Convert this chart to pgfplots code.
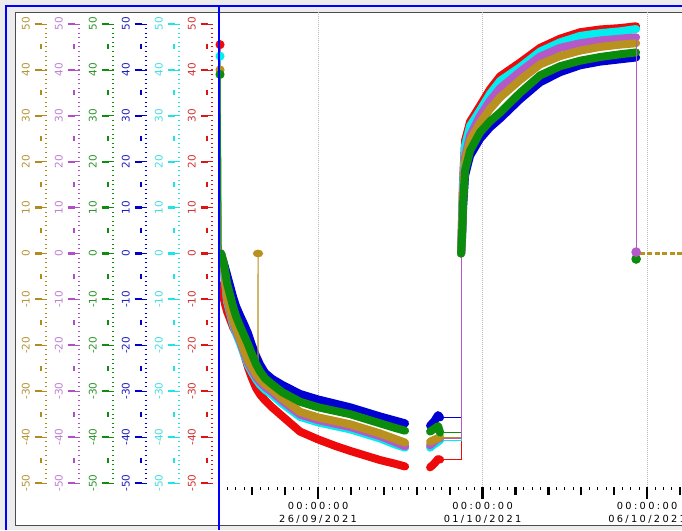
\documentclass[border=0pt]{standalone}
\usepackage{fontspec}
\usepackage{pgfplots}
\pgfplotsset{compat=1.18}
\setmainfont{DejaVu Sans}
\newfontfamily\datefont[LetterSpace=24]{DejaVu Sans}

\definecolor{dRed}{RGB}{238,10,10}
\definecolor{dCyan}{RGB}{0,238,238}
\definecolor{dPur}{RGB}{180,90,200}
\definecolor{dOl}{RGB}{184,145,30}
\definecolor{dGr}{RGB}{12,140,12}
\definecolor{dBl}{RGB}{0,0,210}
\definecolor{tOl}{RGB}{176,140,32}\definecolor{lOl}{RGB}{180,148,56}
\definecolor{tPu}{RGB}{176,80,196}\definecolor{lPu}{RGB}{190,128,210}
\definecolor{tGr}{RGB}{16,140,16}\definecolor{lGr}{RGB}{44,150,44}
\definecolor{tBl}{RGB}{0,0,200}\definecolor{lBl}{RGB}{32,32,188}
\definecolor{tCy}{RGB}{30,228,228}\definecolor{lCy}{RGB}{70,222,222}
\definecolor{tRe}{RGB}{222,20,20}\definecolor{lRe}{RGB}{210,52,52}
\definecolor{bgGray}{RGB}{236,236,236}

\pgfplotsset{
  scalebase/.style={anchor=south west, scale only axis, width=1pt, height=475pt,
    xmin=0, xmax=1, ymin=-50.87, ymax=52.61, axis x line=none, axis y line*=left,
    y axis line style={draw=none}, tick align=outside, clip=false},
  band/.style={line width=8pt, line cap=round, line join=round, mark=none},
  thin/.style={line width=1pt},
}
\newcommand{\scalepair}[3]{%
\begin{axis}[scalebase, at={(#1pt,43pt)},
  ytick={-50,-40,...,50}, yticklabels={-50,-40,-30,-20,-10,0,10,20,30,40,50},
  minor ytick={-49,-48,...,49},
  major tick length=12pt, minor tick length=2.5pt,
  tick style={draw=#2, line width=0.7pt},
  minor tick style={line width=0.9pt},
  yticklabel style={xshift=-5pt, rotate=90, anchor=south, inner sep=0pt, text=#3,
    font=\fontsize{10.5}{10.5}\selectfont}]
\end{axis}
\begin{axis}[scalebase, at={(#1pt-5.5pt,43pt)},
  ytick={-50,-40,...,50}, yticklabels={},
  major tick length=7pt, tick style={draw=#2, line width=2.2pt},
  extra y ticks={-45,-35,...,45}, extra y tick labels={},
  extra y tick style={major tick length=1.3pt, tick style={line width=5pt}}]
\end{axis}
}

\begin{document}
\begin{tikzpicture}[x=1pt,y=1pt]
\path[use as bounding box] (0,0) rectangle (682,530);
\fill[bgGray] (0,0) rectangle (682,530);
\fill[white] (15,5) rectangle (682,518);
\draw[gray!60!black, line width=0.8pt] (682,518) -- (15,518) -- (15,5) -- (682,5);

\scalepair{47}{tOl}{lOl}
\scalepair{80}{tPu}{lPu}
\scalepair{114}{tGr}{lGr}
\scalepair{147}{tBl}{lBl}
\scalepair{180}{tCy}{lCy}
\scalepair{213}{tRe}{lRe}

\begin{axis}[
  at={(219pt,43pt)}, anchor=south west, scale only axis, width=463pt, height=475pt,
  xmin=-3.01, xmax=11.06, ymin=-50.87, ymax=52.61,
  axis y line=none, axis x line*=bottom, x axis line style={draw=none},
  xtick={0,5,10},
  xticklabels={{00:00:00\\26/09/2021},{00:00:00\\01/10/2021},{00:00:00\\06/10/2021}},
  minor xtick={-3,-2.75,...,11},
  extra x ticks={-3,-2,-1,1,2,3,4,6,7,8,9,11},
  extra x tick labels={},
  extra x tick style={major tick length=8pt, grid=none, tick style={line width=0.8pt}},
  tick align=outside,
  major tick length=12pt, minor tick length=3pt,
  tick style={black, line width=0.8pt},
  major tick style={line width=2.2pt},
  xmajorgrids, grid style={densely dotted, gray!55, line width=0.6pt},
  xticklabel style={align=center, font=\datefont\fontsize{9.8}{13}\selectfont, text=black},
  clip=true,
]
% ---- start points (thin) ----
\addplot[dRed, thin, mark=*, mark size=4pt, mark indices={1}] coordinates {(-2.979,45.5) (-2.948,-7)};
\addplot[dCyan, thin, mark=*, mark size=4pt, mark indices={1}] coordinates {(-2.979,43) (-2.948,0)};
\addplot[dOl, thin, mark=*, mark size=4pt, mark indices={1}] coordinates {(-2.979,40) (-2.948,0)};
\addplot[dGr, thin, mark=*, mark size=4pt, mark indices={1}] coordinates {(-2.979,39) (-2.948,0)};
% ---- step lines (thin) ----
\addplot[dBl, thin] coordinates {(3.708,-35.7) (4.347,-35.7) (4.347,0)};
\addplot[dRed, thin] coordinates {(3.708,-44.9) (4.347,-44.9) (4.347,0)};
\addplot[dCyan, thin] coordinates {(3.708,-40.7) (4.347,-40.7) (4.347,0)};
\addplot[dOl, thin] coordinates {(3.708,-40) (4.347,-40) (4.347,0)};
\addplot[dGr, thin] coordinates {(3.708,-39) (4.347,-39) (4.347,0)};
\addplot[dPur, thin] coordinates {(3.708,-40.3) (4.347,-40.3) (4.347,0)};
% ---- blue ----
\addplot[dBl, band] coordinates {(-2.948,0) (-2.888,-1.5) (-2.827,-3) (-2.766,-4.6) (-2.675,-7) (-2.584,-9.4) (-2.492,-11.5) (-2.371,-13.5) (-2.249,-15.4) (-2.128,-17.4) (-2.006,-20) (-1.884,-22.3) (-1.763,-24.2) (-1.611,-26) (-1.398,-27.3) (-1.094,-28.6) (-0.547,-30.6) (0,-31.8) (0.517,-32.7) (0.973,-33.5) (1.429,-34.5) (1.884,-35.5) (2.340,-36.4) (2.644,-37)};
\addplot[dBl, band] coordinates {(3.404,-37.5) (3.526,-36.6) (3.648,-35.2) (3.708,-35.7)};
\addplot[dBl, band] coordinates {(4.347,0) (4.377,3.5) (4.407,10) (4.468,17) (4.620,21.3) (4.924,25) (5.228,27.5) (5.532,29.4) (6.140,33.6) (6.748,37.3) (7.356,39.5) (7.964,41) (8.571,41.8) (9.179,42.3) (9.666,42.7)};
% ---- red ----
\addplot[dRed, band] coordinates {(-2.948,-7) (-2.888,-9) (-2.827,-11) (-2.766,-12.6) (-2.675,-14.3) (-2.584,-16) (-2.492,-17.3) (-2.371,-19) (-2.249,-21.9) (-2.128,-24.8) (-2.006,-27.2) (-1.884,-29.3) (-1.763,-30.7) (-1.611,-32) (-1.398,-33.5) (-1.094,-35.4) (-0.547,-38.8) (0,-40.5) (0.517,-41.9) (0.973,-43) (1.429,-44) (1.884,-45) (2.340,-45.8) (2.644,-46.4)};
\addplot[dRed, band] coordinates {(3.404,-46.6) (3.526,-45.8) (3.648,-44.8) (3.708,-44.9)};
\addplot[dRed, band] coordinates {(4.347,0) (4.377,8) (4.407,16) (4.468,24.6) (4.620,28.7) (4.924,32.2) (5.228,35.8) (5.532,38.6) (6.140,41.6) (6.748,44.8) (7.356,46.8) (7.964,48.2) (8.571,48.8) (9.179,49.1) (9.666,49.5)};
% ---- cyan ----
\addplot[dCyan, band] coordinates {(-2.948,0) (-2.888,-3) (-2.827,-6) (-2.766,-10.5) (-2.675,-13) (-2.584,-15.5) (-2.492,-17.4) (-2.371,-19.6) (-2.249,-22) (-2.128,-24.3) (-2.006,-25.9) (-1.884,-27.4) (-1.763,-28.6) (-1.611,-29.7) (-1.398,-30.8) (-1.094,-32.7) (-0.547,-35.6) (0,-36.8) (0.517,-37.6) (0.973,-38.3) (1.429,-39.3) (1.884,-40.3) (2.340,-41.6) (2.644,-42.3)};
\addplot[dCyan, band] coordinates {(3.404,-42.3) (3.526,-41.6) (3.648,-41) (3.708,-40.7)};
\addplot[dCyan, band] coordinates {(4.347,0) (4.377,7) (4.407,15) (4.468,23.5) (4.620,27.8) (4.924,31.2) (5.228,34.8) (5.532,37.6) (6.140,40.6) (6.748,44) (7.356,46) (7.964,47.4) (8.571,48) (9.179,48.4) (9.666,48.9)};
% ---- purple ----
\addplot[dPur, band] coordinates {(-2.948,0) (-2.888,-2.2) (-2.827,-5.2) (-2.766,-10) (-2.675,-12.6) (-2.584,-15) (-2.492,-16.9) (-2.371,-19.1) (-2.249,-21.6) (-2.128,-23.8) (-2.006,-25.4) (-1.884,-26.9) (-1.763,-28) (-1.611,-29.1) (-1.398,-30.2) (-1.094,-32.1) (-0.547,-35.1) (0,-36.3) (0.517,-37.1) (0.973,-37.8) (1.429,-38.8) (1.884,-39.8) (2.340,-41.1) (2.644,-42)};
\addplot[dPur, band] coordinates {(3.404,-41.8) (3.526,-41) (3.648,-40.3) (3.708,-40.3)};
\addplot[dPur, band] coordinates {(4.347,0) (4.377,6) (4.407,13) (4.468,21) (4.620,25.7) (4.924,30) (5.228,33.3) (5.532,36) (6.140,39.6) (6.748,42.9) (7.356,44.8) (7.964,45.8) (8.571,46.4) (9.179,46.8) (9.666,47.1)};
% ---- olive ----
\addplot[dOl, band] coordinates {(-2.948,0) (-2.888,-1.5) (-2.827,-4.4) (-2.766,-9.6) (-2.675,-12.1) (-2.584,-14.6) (-2.492,-16.3) (-2.371,-18.6) (-2.249,-21.1) (-2.128,-23.3) (-2.006,-24.8) (-1.884,-26.3) (-1.763,-27.4) (-1.611,-28.5) (-1.398,-29.6) (-1.094,-31.5) (-0.547,-34.5) (0,-35.7) (0.517,-36.5) (0.973,-37.2) (1.429,-38.2) (1.884,-39.2) (2.340,-40.4) (2.644,-41.2)};
\addplot[dOl, band] coordinates {(3.404,-41) (3.526,-40.6) (3.648,-40.2) (3.708,-40)};
\addplot[dOl, band] coordinates {(4.347,0) (4.377,5) (4.407,12) (4.468,20) (4.620,24.6) (4.924,28.5) (5.228,31.5) (5.532,34) (6.140,37.8) (6.748,41.2) (7.356,43) (7.964,44.2) (8.571,45) (9.179,45.5) (9.666,45.8)};
% ---- olive spike ----
\addplot[dOl, thin, mark=*, mark size=4.6pt, mark options={yscale=0.72}, mark indices={2}]
  coordinates {(-1.830,-27.3) (-1.824,0) (-1.818,-27.4)};
% ---- green ----
\addplot[dGr, band] coordinates {(-2.948,0) (-2.888,-1.5) (-2.827,-3.7) (-2.766,-6.5) (-2.675,-9) (-2.584,-11.5) (-2.492,-13.7) (-2.371,-15.8) (-2.249,-17.8) (-2.128,-19.8) (-2.006,-22) (-1.884,-24.1) (-1.763,-25.7) (-1.611,-27.2) (-1.398,-28.5) (-1.094,-30.2) (-0.547,-32.3) (0,-33.5) (0.517,-34.3) (0.973,-35) (1.429,-36) (1.884,-37) (2.340,-38) (2.644,-38.6)};
\addplot[dGr, band] coordinates {(3.404,-38.8) (3.526,-38.2) (3.648,-37.6) (3.708,-39)};
\addplot[dGr, band] coordinates {(4.347,0) (4.377,4) (4.407,11) (4.468,18) (4.620,22.4) (4.924,26.4) (5.228,28.8) (5.532,30.7) (6.140,35) (6.748,38.8) (7.356,40.8) (7.964,42) (8.571,42.8) (9.179,43.4) (9.666,43.8)};
% ---- end drop and tail ----
\addplot[dOl, line width=2.2pt, dash pattern=on 5pt off 2.5pt] coordinates {(9.78,0) (11.06,0)};
\addplot[dGr, thin, mark=*, mark size=4.3pt, mark indices={2}] coordinates {(9.666,43.8) (9.666,-1.2)};
\addplot[dPur, thin, mark=*, mark size=4.3pt, mark indices={2}] coordinates {(9.666,47.1) (9.666,0.3)};
\end{axis}

\draw[blue, line width=2.4pt] (5,524) -- (682,524);
\draw[blue, line width=2pt] (6,0) -- (6,525);
\draw[blue, line width=2pt] (219.3,0) -- (219.3,525);
\end{tikzpicture}
\end{document}
